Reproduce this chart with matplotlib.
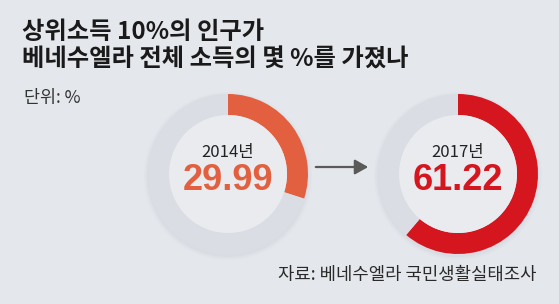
import matplotlib.pyplot as plt
from matplotlib.patches import Circle

plt.rcParams['font.family'] = ['Noto Sans CJK KR', 'DejaVu Sans']

years = ["2014년", "2017년"]
shares = [29.99, 61.22]
colors = ["#e2603f", "#d5161f"]
title_lines = ["상위소득 10%의 인구가", "베네수엘라 전체 소득의 몇 %를 가졌나"]
unit_label = "단위: %"
source = "자료: 베네수엘라 국민생활실태조사"

W, H = 559, 304
bg = "#e4e7ec"
ring_bg = "#dadde3"

fig = plt.figure(figsize=(W / 100, H / 100), dpi=100, facecolor=bg)
ax = fig.add_axes([0, 0, 1, 1])
ax.set_facecolor(bg)

# donut centres in pixel coords (y measured from top)
centres = [(228, 174), (458, 174)]
r_out, ring = 80, 21

for (cx, cy), yr, val, col in zip(centres, years, shares, colors):
    c = (cx, H - cy)
    # soft shadow
    for k, a in enumerate([0.06, 0.04, 0.03]):
        ax.add_patch(Circle((c[0], c[1] - 2), r_out + 1 + k * 1.5, color="#9aa0aa", alpha=a, lw=0, zorder=1))
    ax.add_patch(Circle(c, r_out - ring, color="#e9ebef", lw=0, zorder=2))
    ax.pie([val, 100 - val], colors=[col, ring_bg], startangle=90, counterclock=False,
           center=c, radius=r_out, wedgeprops=dict(width=ring, linewidth=0),
           frame=True)
    ax.text(c[0], H - 152, yr, ha="center", va="center", fontsize=12, color="#222222", zorder=5)
    ax.text(c[0], H - 181, f"{val:.2f}", ha="center", va="center", fontsize=26, fontweight="bold",
            color=col, family=["Liberation Sans"], zorder=5)

ax.annotate("", xy=(371, H - 167), xytext=(313, H - 167),
            arrowprops=dict(arrowstyle="-|>,head_length=0.8,head_width=0.45", color="#5a5a5a", lw=1.6))

ax.text(22, H - 32, title_lines[0], ha="left", va="center", fontsize=17.5, fontweight="bold", color="#1a1a1a")
ax.text(22, H - 60, title_lines[1], ha="left", va="center", fontsize=17.5, fontweight="bold", color="#1a1a1a")
ax.text(24, H - 98, unit_label, ha="left", va="center", fontsize=12.5, color="#333333")
ax.text(537, H - 275, source, ha="right", va="center", fontsize=12.8, color="#2a2a2a")

ax.set_xlim(0, W)
ax.set_ylim(0, H)
ax.set_aspect("auto")
ax.axis("off")

fig.savefig("out.png", dpi=100, facecolor=bg)
